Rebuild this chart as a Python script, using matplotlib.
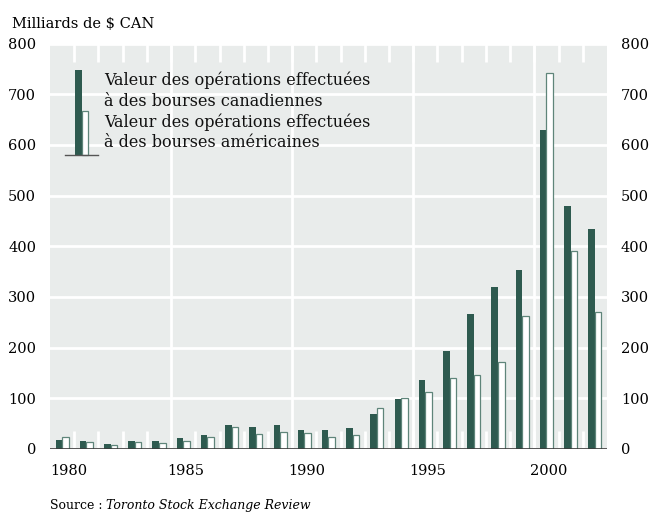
import matplotlib.pyplot as plt
import numpy as np
from matplotlib.patches import Rectangle

# Valeur des opérations (milliards de $ CAN)
years = np.arange(1980, 2003)
canadiennes = [17, 15, 9, 15, 15, 22, 27, 48, 43, 48, 38, 37, 41, 69, 98,
               136, 193, 266, 320, 353, 630, 480, 435]
americaines = [23, 13, 8, 14, 12, 16, 23, 44, 29, 33, 32, 24, 27, 81, 100,
               113, 141, 146, 171, 262, 741, 391, 270]
yticks = [0, 100, 200, 300, 400, 500, 600, 700, 800]
decades = [1985, 1990, 1995, 2000]

DARK = '#2e5a4f'
EDGE = '#5f857a'
BG = '#e9eceb'
FONT = 'DejaVu Serif'


def main():
    plt.rcParams['font.family'] = FONT
    fig = plt.figure(figsize=(6.5, 5.13), dpi=100)
    ax = fig.add_axes([50 / 650, 64 / 513, 557 / 650, 405.5 / 513])
    ax.set_facecolor(BG)
    ax.set_axisbelow(True)

    w = 0.27
    ax.bar(years + 0.365, canadiennes, width=w, color=DARK, linewidth=0, zorder=3)
    ax.bar(years + 0.635, americaines, width=w, color='white', edgecolor=EDGE,
           linewidth=0.9, zorder=3)

    ax.set_xlim(1980, 2003)
    ax.set_ylim(0, 800)

    # white grid
    ax.set_yticks(yticks)
    ax.yaxis.grid(True, color='white', linewidth=2)
    for d in decades:
        ax.axvline(d, color='white', linewidth=2, zorder=0.6)
    ax.set_xticks(years[1:], minor=True)
    ax.tick_params(axis='x', which='minor', direction='in', length=13,
                   width=2, color='white', top=True, bottom=True)

    # year labels, every five years
    pos = [1980.77] + [d + 0.6 for d in decades]
    ax.set_xticks(pos)
    ax.set_xticklabels(['1980'] + [str(d) for d in decades])
    ax.tick_params(axis='x', which='major', length=0, pad=11, labelsize=10.5)

    ax.tick_params(axis='y', length=0, pad=10, labelsize=10.5,
                   right=True, labelright=True)

    for s in ax.spines.values():
        s.set_visible(False)
    ax.axhline(0, color='#3a3a3a', linewidth=1.2, zorder=4)

    # legend key
    t = ax.transAxes
    def axc(px, py):
        return (px - 50) / 557, (449 - py) / 405.5
    x0, y0 = axc(75, 155)
    x1, y1 = axc(82, 70)
    ax.add_patch(Rectangle((x0, y0), x1 - x0, y1 - y0, transform=t,
                           facecolor=DARK, linewidth=0, zorder=5))
    x0, y0 = axc(82, 155)
    x1, y1 = axc(88, 111)
    ax.add_patch(Rectangle((x0, y0), x1 - x0, y1 - y0, transform=t,
                           facecolor='white', edgecolor=EDGE, linewidth=0.9, zorder=5))
    a, b = axc(65, 155)
    c, _ = axc(98, 155)
    ax.plot([a, c], [b, b], transform=t, color='#555555', linewidth=1, zorder=6)

    lines = ['Valeur des opérations effectuées', 'à des bourses canadiennes',
             'Valeur des opérations effectuées', 'à des bourses américaines']
    for i, txt in enumerate(lines):
        tx, ty = axc(104, 85 + i * 20.8)
        ax.text(tx, ty, txt, transform=t, fontsize=11.5, va='baseline',
                ha='left', color='#111111', zorder=6)

    fig.text(12 / 650, 1 - 28 / 513, 'Milliards de $ CAN', fontsize=10.5,
             va='baseline', ha='left')
    src = fig.text(50 / 650, 1 - 509 / 513, 'Source : ', fontsize=9,
                   va='baseline', ha='left')
    fig.canvas.draw()
    bb = src.get_window_extent()
    fig.text(bb.x1 / 650, 1 - 509 / 513, 'Toronto Stock Exchange Review',
             fontsize=9, style='italic', va='baseline', ha='left')

    fig.savefig('out.png', dpi=100)


if __name__ == '__main__':
    main()
